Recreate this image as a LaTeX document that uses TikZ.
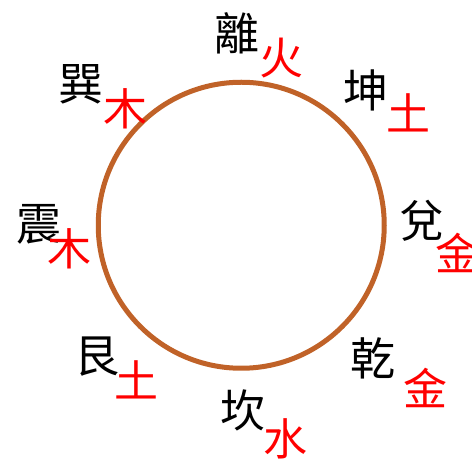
\documentclass[tikz,border=0pt]{standalone}
\usepackage{fontspec}
\newfontfamily\cjk{Noto Sans CJK SC}
\definecolor{ringbrown}{RGB}{192,98,40}
\begin{document}
\begin{tikzpicture}[x=1pt,y=-1pt,
  gua/.style={inner sep=0pt,font=\cjk\fontsize{45}{45}\selectfont,text=black},
  elem/.style={inner sep=0pt,font=\cjk\fontsize{44}{44}\selectfont,text=red},
  ring/.style={circle,draw=ringbrown,line width=5pt,minimum size=286pt,inner sep=0pt}]
\useasboundingbox (0,0) rectangle (472,462);
\node[ring] (ring) at (241.25,225.25) {};
\node[gua] (li) at (237,33) {離};
\node[elem] (lif) at (281,58) {火};
\node[gua] (xun) at (81,84) {巽};
\node[elem] (xunf) at (125,109) {木};
\node[gua] (kun) at (366,90) {坤};
\node[elem] (kunf) at (408,113) {土};
\node[gua] (zhen) at (39,224) {震};
\node[elem] (zhenf) at (69,249) {木};
\node[gua] (dui) at (422,221) {兌};
\node[elem] (duif) at (457,253) {金};
\node[gua] (gen) at (97,357) {艮};
\node[elem] (genf) at (136,380) {土};
\node[gua] (qian) at (373,358) {乾};
\node[elem] (qianf) at (425,388) {金};
\node[gua] (kan) at (243,410) {坎};
\node[elem] (kanf) at (285,439) {水};
\end{tikzpicture}
\end{document}
